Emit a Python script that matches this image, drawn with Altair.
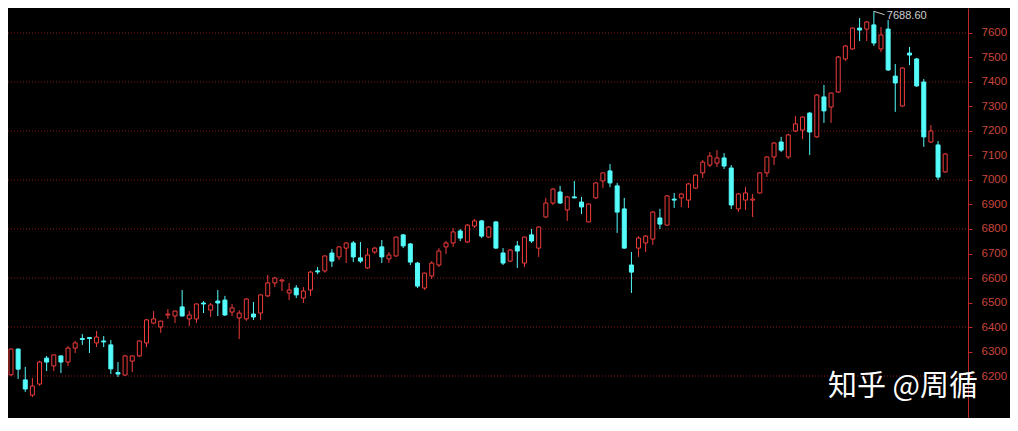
import altair as alt
import pandas as pd

opens = [6205,6310,6184,6122,6167,6273,6241,6282,6257,6314,
         6353,6357,6335,6343,6327,6214,6204,6261,6282,6335,
         6416,6400,6449,6445,6482,6433,6433,6498,6469,6506,
         6510,6461,6437,6433,6453,6457,6527,6580,6588,6539,
         6559,6518,6551,6629,6629,6702,6686,6722,6743,6682,
         6641,6706,6727,6678,6690,6776,6739,6661,6559,6608,
         6653,6727,6743,6792,6747,6812,6833,6767,6829,6702,
         6669,6731,6661,6776,6722,6849,6906,6951,6878,6931,
         6910,6829,6927,6996,7037,6976,6882,6653,6722,6743,
         6759,6845,6816,6922,6927,6918,6967,7029,7061,7069,
         7090,7049,6882,6918,6918,6947,7029,7094,7155,7094,
         7200,7204,7273,7176,7339,7298,7359,7494,7535,7620,
         7616,7633,7535,7616,7424,7302,7518,7494,7400,7155,
         7143,7033]
closes = [6310,6228,6147,6159,6257,6257,6286,6257,6314,6335,
          6349,6353,6359,6339,6229,6208,6282,6282,6343,6429,
          6433,6424,6453,6465,6445,6449,6494,6494,6490,6498,
          6449,6478,6457,6514,6441,6531,6580,6600,6592,6551,
          6531,6547,6624,6625,6690,6669,6727,6743,6686,6669,
          6694,6722,6686,6694,6767,6731,6665,6567,6620,6661,
          6710,6743,6788,6763,6816,6833,6771,6808,6722,6661,
          6714,6710,6767,6751,6808,6906,6963,6906,6931,6927,
          6890,6902,6988,7029,6988,6869,6722,6624,6763,6771,
          6869,6820,6935,6918,6943,6984,7020,7073,7098,7090,
          7057,6898,6943,6947,6922,7029,7094,7151,7122,7184,
          7229,7257,7196,7347,7282,7355,7502,7547,7620,7612,
          7645,7559,7592,7449,7396,7457,7510,7384,7176,7200,
          7012,7106]
highs = [6312,6312,6237,6192,6262,6282,6288,6284,6322,6343,
         6371,6358,6384,6363,6347,6257,6286,6284,6345,6433,
         6465,6426,6473,6467,6551,6465,6496,6506,6498,6551,
         6527,6494,6469,6518,6502,6533,6612,6604,6594,6580,
         6571,6563,6629,6645,6692,6718,6729,6745,6751,6747,
         6722,6727,6755,6706,6769,6780,6743,6665,6622,6669,
         6722,6751,6804,6800,6820,6841,6837,6812,6831,6722,
         6718,6751,6769,6800,6810,6927,6967,6976,6935,6996,
         6931,6904,6992,7031,7065,6988,6927,6706,6771,6775,
         6873,6882,6939,6947,6947,6988,7024,7082,7114,7122,
         7110,7061,6947,6971,6943,7031,7096,7155,7176,7188,
         7261,7259,7278,7351,7388,7357,7506,7551,7622,7661,
         7649,7688.6,7624,7653,7473,7461,7543,7498,7412,7224,
         7159,7110]
lows = [6200,6188,6135,6114,6160,6220,6220,6212,6241,6294,
        6327,6294,6318,6318,6208,6196,6200,6216,6278,6318,
        6412,6376,6433,6416,6443,6404,6416,6457,6441,6445,
        6445,6445,6351,6425,6429,6429,6522,6563,6547,6510,
        6518,6498,6527,6616,6622,6645,6673,6661,6665,6661,
        6637,6698,6661,6661,6686,6722,6653,6559,6551,6596,
        6645,6698,6727,6751,6743,6804,6763,6763,6720,6653,
        6665,6641,6645,6743,6686,6845,6898,6902,6833,6925,
        6861,6827,6922,6967,6971,6784,6720,6539,6686,6706,
        6735,6800,6814,6886,6890,6886,6963,7008,7053,7053,
        7045,6882,6869,6878,6849,6945,7012,7061,7114,7086,
        7196,7167,7102,7172,7233,7233,7355,7486,7531,7567,
        7567,7547,7522,7445,7278,7298,7469,7380,7135,7151,
        7000,7029]

axis_ticks = list(range(6200, 7700, 100))
grid_vals = list(range(6200, 7700, 200))
watermark = "知乎 @周循"

RED = "#f03c3c"
CYAN = "#54fcfc"
AXRED = "#c02828"

df = pd.DataFrame({"i": list(range(len(opens))), "open": opens, "close": closes,
                   "high": highs, "low": lows})
df["dir"] = ["up" if c >= o else "down" for o, c in zip(opens, closes)]

W, H = 960, 410
xs = alt.Scale(domain=[-0.42, 134.2], nice=False, zero=False, padding=0)
ys = alt.Scale(domain=[6028.6, 7702], nice=False, zero=False, padding=0)
colscale = alt.Scale(domain=["up", "down"], range=[RED, CYAN])
fillscale = alt.Scale(domain=["up", "down"], range=["#000000", CYAN])

yaxis = alt.Axis(
    orient="right", values=axis_ticks, grid=False, title=None, format="d",
    domainColor=AXRED, domainWidth=1, tickColor=AXRED, tickSize=4,
    labelColor="#c8463c", labelFont="Liberation Sans", labelFontSize=11.5,
    labelPadding=9, labelAlign="left", labelBaseline="middle",
    labelFlush=False, labelOverlap=False)

grid = alt.Chart(pd.DataFrame({"v": grid_vals})).mark_rule(
    color="#8a1a1a", strokeDash=[1, 2], strokeWidth=1
).encode(
    y=alt.Y("v:Q", scale=ys, axis=yaxis),
    x=alt.value(0), x2=alt.value(W)
)

base = alt.Chart(df)
wicks = base.mark_rule(strokeWidth=1).encode(
    x=alt.X("i:Q", scale=xs, axis=None),
    y=alt.Y("low:Q", scale=ys, axis=yaxis), y2="high:Q",
    color=alt.Color("dir:N", scale=colscale, legend=None)
)
bodies = base.mark_bar(size=4, strokeWidth=1).encode(
    x=alt.X("i:Q", scale=xs, axis=None),
    y=alt.Y("open:Q", scale=ys, axis=yaxis), y2="close:Q",
    stroke=alt.Stroke("dir:N", scale=colscale, legend=None),
    fill=alt.Fill("dir:N", scale=fillscale, legend=None)
)

imax = int(df["high"].idxmax())
ann_df = pd.DataFrame({"i": [imax], "i2": [imax + 1.5], "h": [highs[imax]],
                       "h2": [highs[imax] - 14], "label": [f"{highs[imax]:.2f}"]})
ann_line = alt.Chart(ann_df).mark_rule(color="#c8c8c8", strokeWidth=1).encode(
    x=alt.X("i:Q", scale=xs, axis=None), x2="i2:Q",
    y=alt.Y("h:Q", scale=ys, axis=yaxis), y2="h2:Q"
)
ann_text = alt.Chart(ann_df).mark_text(
    align="left", baseline="middle", dx=13, dy=5, color="#d0d0d0",
    font="Liberation Sans", fontSize=11
).encode(
    x=alt.X("i:Q", scale=xs, axis=None),
    y=alt.Y("h:Q", scale=ys, axis=yaxis),
    text="label:N"
)

wm = alt.Chart(pd.DataFrame({"t": [watermark]})).mark_text(
    align="left", baseline="middle", color="#ffffff", fontSize=29,
    font="Noto Sans CJK SC"
).encode(x=alt.value(820), y=alt.value(379), text="t:N")

chart = alt.layer(grid, wicks, bodies, ann_line, ann_text, wm).properties(
    width=W, height=H, background="#000000",
    autosize=alt.AutoSizeParams(type="none"),
    padding={"left": 0, "top": 0, "right": 42, "bottom": 0}
).configure_view(stroke=None)

chart.save("out.html", embed_options={"renderer": "svg", "actions": False})
